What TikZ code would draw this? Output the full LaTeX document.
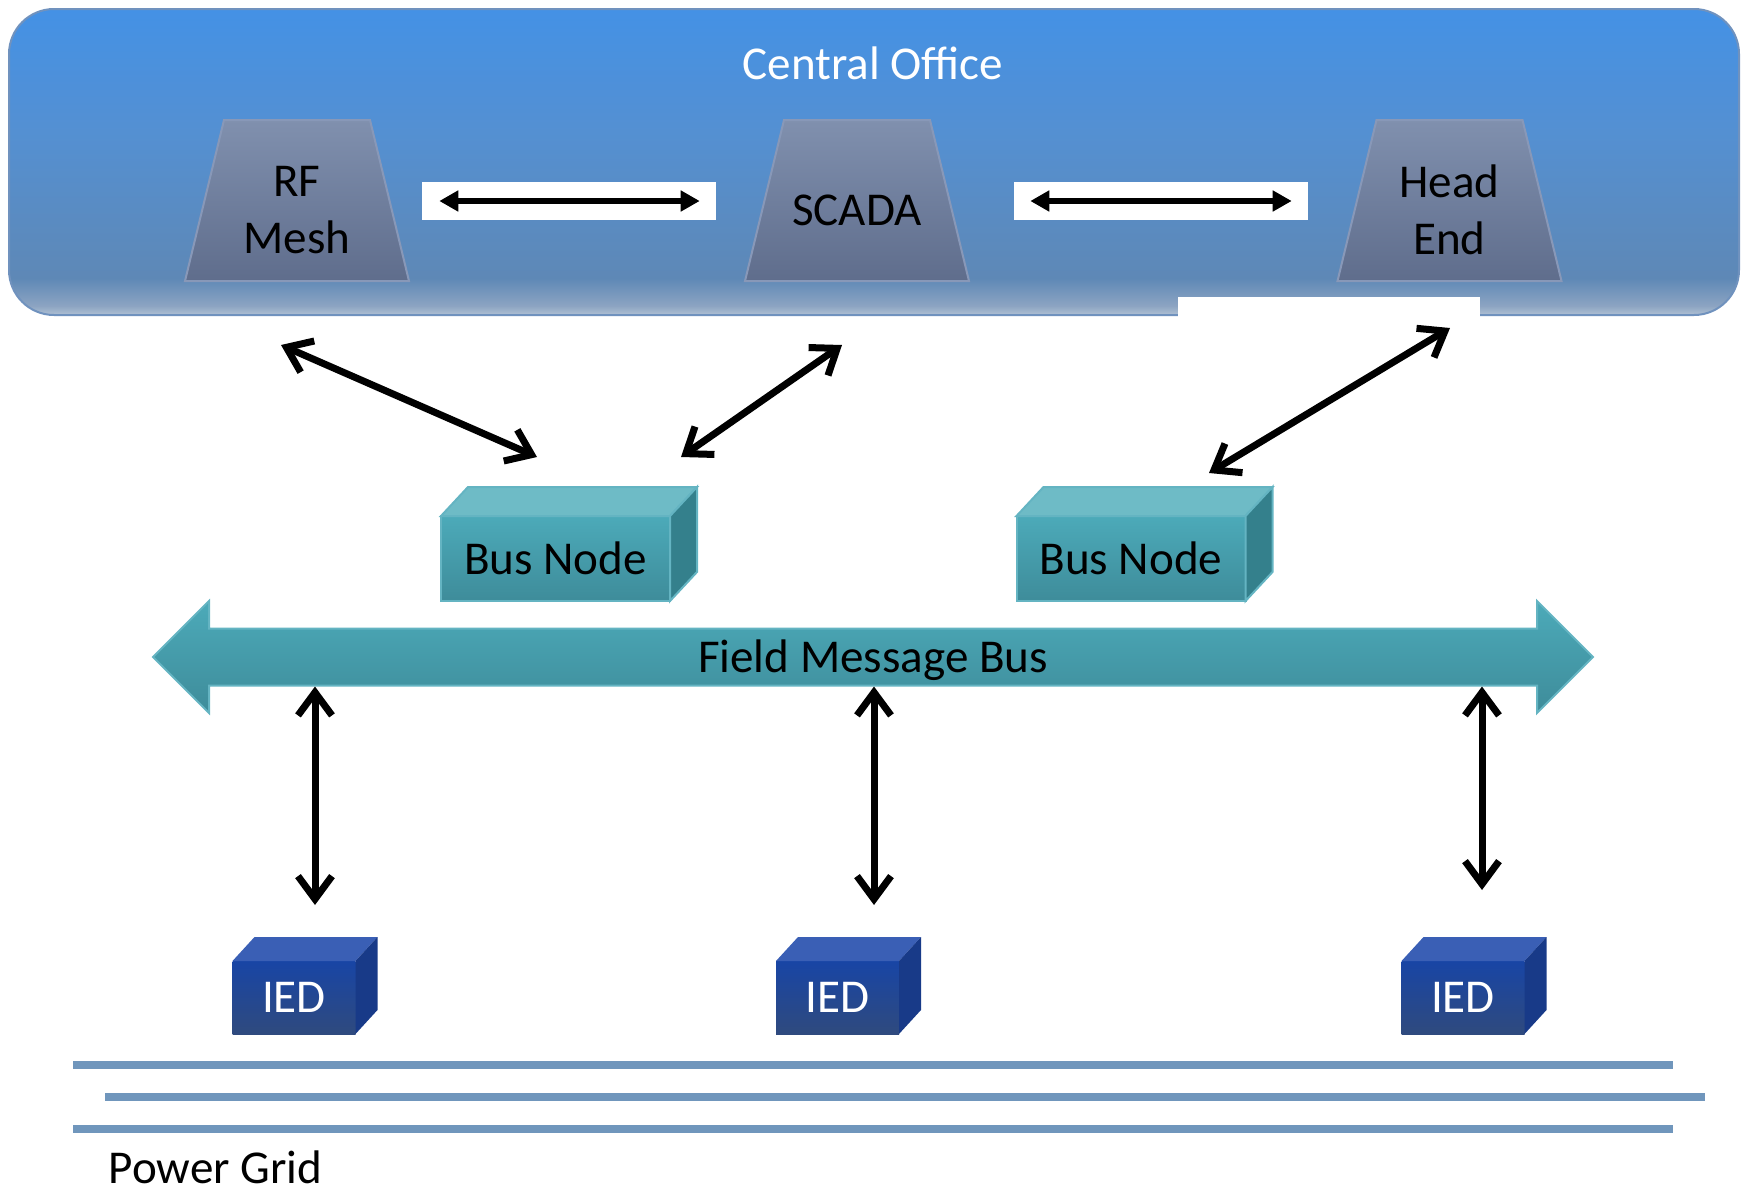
\documentclass[tikz,border=0pt]{standalone}
\usepackage{fontspec}
\setmainfont{Carlito}
\usetikzlibrary{arrows.meta,shapes.arrows}

\definecolor{offA}{RGB}{68,145,229}
\definecolor{offB}{RGB}{84,144,210}
\definecolor{offC}{RGB}{94,136,182}
\definecolor{offD}{RGB}{140,164,194}
\definecolor{offE}{RGB}{176,192,212}
\definecolor{offedge}{RGB}{112,146,190}
\definecolor{srvtop}{RGB}{128,144,174}
\definecolor{srvbot}{RGB}{95,109,140}
\definecolor{srvedge}{RGB}{136,152,184}
\definecolor{busA}{RGB}{76,170,185}
\definecolor{busB}{RGB}{62,140,154}
\definecolor{busedge}{RGB}{100,180,194}
\definecolor{bustop}{RGB}{110,187,198}
\definecolor{busside}{RGB}{52,128,140}
\definecolor{iedA}{RGB}{24,69,165}
\definecolor{iedB}{RGB}{47,74,126}
\definecolor{iedtop}{RGB}{58,95,181}
\definecolor{iedside}{RGB}{24,58,136}
\definecolor{gridblue}{RGB}{112,150,188}

\pgfdeclareverticalshading{officeshade}{100bp}{color(0bp)=(offE); color(25bp)=(offE);
  color(26.5bp)=(offD); color(31bp)=(offC); color(55bp)=(offB); color(75bp)=(offA); color(100bp)=(offA)}

\begin{document}
\begin{tikzpicture}[x=0.1mm,y=-0.1mm,font=\fontsize{13.4}{16.2}\selectfont,
    server/.style={top color=srvtop,bottom color=srvbot,draw=srvedge,line width=0.2mm},
    linkbox/.style={fill=white,minimum width=29.4mm,minimum height=3.8mm,inner sep=0pt},
    harrow/.style={{Triangle[length=1.9mm,width=2mm]}-{Triangle[length=1.9mm,width=2mm]},line width=0.6mm},
    varrow/.style={{Straight Barb[length=2.3mm,width=3.4mm]}-{Straight Barb[length=2.3mm,width=3.4mm]},line width=0.7mm},
    busnode/.style={top color=busA,bottom color=busB,draw=busedge,line width=0.2mm,
        minimum width=22.9mm,minimum height=8.5mm,inner sep=0pt,outer sep=0pt},
    fmbus/.style={double arrow,double arrow tip angle=90,double arrow head extend=2.75mm,
        minimum height=144mm,minimum width=11.2mm,inner xsep=0pt,inner ysep=0.75mm,
        text height=3.5mm,text depth=0.5mm,
        top color=busA,bottom color=busB,draw=busedge,line width=0.2mm},
    ied/.style={top color=iedA,bottom color=iedB,text=white,
        minimum width=12.3mm,minimum height=7.3mm,inner sep=0pt,outer sep=0pt},
    gridline/.style={gridblue,line width=0.8mm}]
    \useasboundingbox (0,0) rectangle (1750,1191);

    % central office
    \shade[shading=officeshade,rounded corners=4.5mm] (9,9) rectangle (1739,315);
    \draw[offedge,line width=0.2mm,rounded corners=4.5mm] (9,9) rectangle (1739,315);
    \fill[white] (1178,297) rectangle (1480,317);
    \node[text=white] (office) at (873,63) {Central Office};

    \foreach \n/\x/\t in {rf/297/{RF\\Mesh},scada/857/SCADA,head/1449.5/{Head\\End}}
        {\draw[server] (\x-112,281) -- (\x-73,120) -- (\x+73,120) -- (\x+112,281) -- cycle;
         \node[align=center] (\n) at (\x,210) {\t};}

    \node[linkbox] (link1) at (569,201) {};
    \node[linkbox] (link2) at (1161,201) {};
    \draw[harrow,shorten <=1.8mm,shorten >=1.7mm] (link1.west) -- (link1.east);
    \draw[harrow,shorten <=1.7mm,shorten >=1.7mm] (link2.west) -- (link2.east);

    % bus nodes
    \foreach \n/\x in {bus1/555.5,bus2/1131}
        {\node[busnode] (\n) at (\x,558.5) {Bus Node};
         \draw[busedge,line width=0.2mm,fill=bustop] (\n.north west) -- ++(27,-29) -- ++(229,0) -- (\n.north east) -- cycle;
         \draw[busedge,line width=0.2mm,fill=busside] (\n.north east) -- ++(27,-29) -- ++(0,85) -- (\n.south east) -- cycle;}

    \coordinate (rfdown) at (281,345);
    \coordinate (bus1a) at (537,457);
    \coordinate (scdown) at (842,345);
    \coordinate (bus1b) at (681,457);
    \coordinate (hedown) at (1450,328);
    \coordinate (bus2a) at (1209,473);
    \draw[varrow] (rfdown) -- (bus1a);
    \draw[varrow] (scdown) -- (bus1b);
    \draw[varrow] (hedown) -- (bus2a);

    % field message bus
    \node[fmbus] (fmb) at (873,657) {Field Message Bus};

    % IEDs
    \foreach \n/\x in {ied1/294,ied2/837.5,ied3/1463}
        {\node[ied] (\n) at (\x,997.5) {IED};
         \fill[iedtop] (\n.north west) -- ++(22,-24) -- ++(123,0) -- (\n.north east) -- cycle;
         \fill[iedside] (\n.north east) -- ++(22,-24) -- ++(0,73) -- (\n.south east) -- cycle;}

    \foreach \i/\x/\y in {1/315/905,2/874/905,3/1482/890}
        {\coordinate (iedup\i) at (\x,\y);
         \draw[varrow] (iedup\i |- fmb.south) -- (iedup\i);}

    % power grid
    \foreach \a/\y in {73/1065,105/1097,73/1129}
        {\draw[gridline] (\a,\y) -- ++(1600,0);}
    \node[anchor=base west,inner sep=0pt] (grid) at (108,1183) {Power Grid};
\end{tikzpicture}
\end{document}
